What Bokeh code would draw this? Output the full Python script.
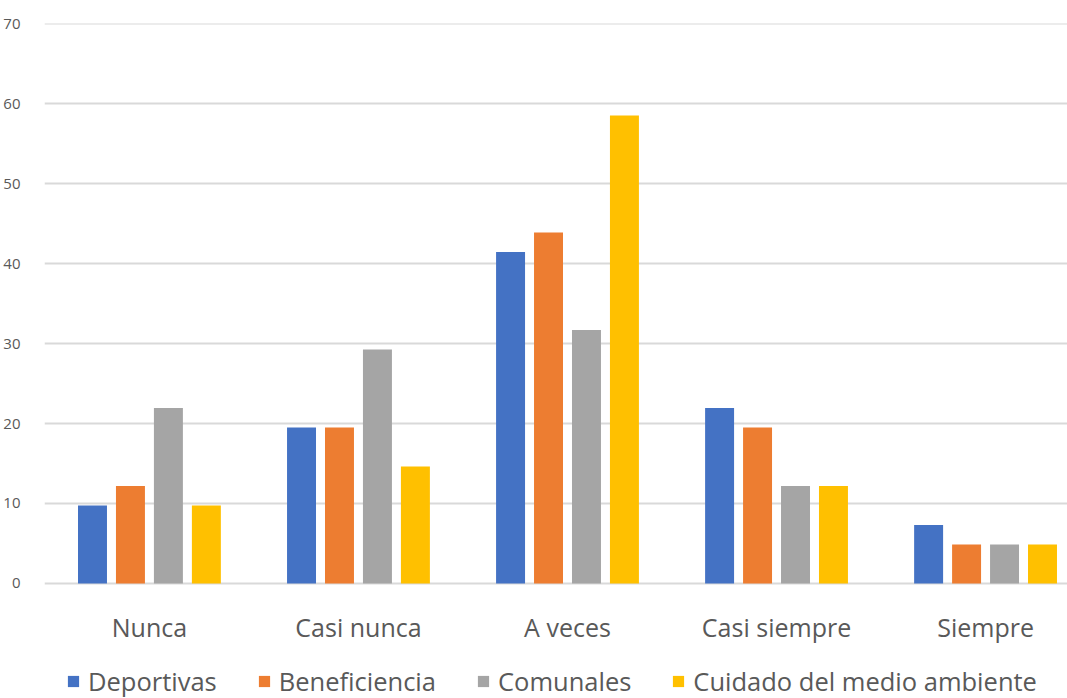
from bokeh.plotting import figure
from bokeh.models import ColumnDataSource, FixedTicker, Legend, LegendItem, Range1d
from bokeh.core.properties import value
from bokeh.transform import dodge
from bokeh.embed import file_html
from bokeh.resources import INLINE

# Percentage of respondents (n = 41) per frequency answer and activity type
categories = ["Nunca", "Casi nunca", "A veces", "Casi siempre", "Siempre"]
deportivas = [9.76, 19.51, 41.46, 21.95, 7.32]
beneficiencia = [12.20, 19.51, 43.90, 19.51, 4.88]
comunales = [21.95, 29.27, 31.71, 12.20, 4.88]
medio_ambiente = [9.76, 14.63, 58.54, 12.20, 4.88]
series_names = ["Deportivas", "Beneficiencia", "Comunales", "Cuidado del medio ambiente"]
y_ticks = [0, 10, 20, 30, 40, 50, 60, 70]

colors = ["#4472C4", "#ED7D31", "#A5A5A5", "#FFC000"]
text_color = "#595959"
grid_color = "#D9D9D9"
font = "Open Sans"

source = ColumnDataSource(dict(
    x=list(range(len(categories))),
    base=[0] * len(categories),
    cat=categories,
    dep=deportivas,
    ben=beneficiencia,
    com=comunales,
    amb=medio_ambiente,
))

# The frame reaches the bottom of the page; the space under 0 holds the
# category names and the legend.
p = figure(
    width=1067, height=698,
    x_range=Range1d(-0.502, 4.392),
    y_range=Range1d(-14.4, 70.05),
    output_backend="svg", toolbar_location=None,
    x_axis_location=None,
    min_border_left=43, min_border_right=0, min_border_top=23,
    min_border_bottom=0,
)
p.outline_line_color = None
p.background_fill_color = "white"
p.border_fill_color = "white"

step = 0.1816
bar_w = 0.1386
fields = ["dep", "ben", "com", "amb"]
renderers = []
for i, (f, c) in enumerate(zip(fields, colors)):
    off = (i - 1.5) * step
    r = p.vbar(x=dodge("x", off), top=f, width=bar_w, bottom=0,
               source=source, fill_color=c, line_color=None)
    renderers.append(r)

# category names under each group of bars
p.text(x="x", y="base", text="cat", source=source,
       text_align="center", text_baseline="alphabetic", y_offset=44,
       text_font=value(font), text_font_size=value("25px"),
       text_color=text_color)

# y axis: labels only, horizontal grid lines (the one at 0 is the baseline)
p.yaxis.ticker = FixedTicker(ticks=y_ticks)
p.yaxis.axis_line_color = None
p.yaxis.major_tick_line_color = None
p.yaxis.major_tick_out = 0
p.yaxis.minor_tick_line_color = None
p.yaxis.major_label_standoff = 24
p.yaxis.major_label_text_color = text_color
p.yaxis.major_label_text_font = font
p.yaxis.major_label_text_font_size = "15px"
p.ygrid.grid_line_color = grid_color
p.ygrid.grid_line_width = 2
p.xgrid.grid_line_color = None

legend = Legend(
    items=[LegendItem(label=n, renderers=[r]) for n, r in zip(series_names, renderers)],
    orientation="horizontal",
    location=(22, 0),
    spacing=40,
    glyph_width=14, glyph_height=14,
    label_standoff=8,
    label_text_font=font,
    label_text_font_size="25.5px",
    label_text_color=text_color,
    border_line_color=None,
    background_fill_alpha=0,
    padding=0,
    margin=0,
)
p.add_layout(legend, "center")

open("out.html", "w").write(file_html(p, INLINE))
